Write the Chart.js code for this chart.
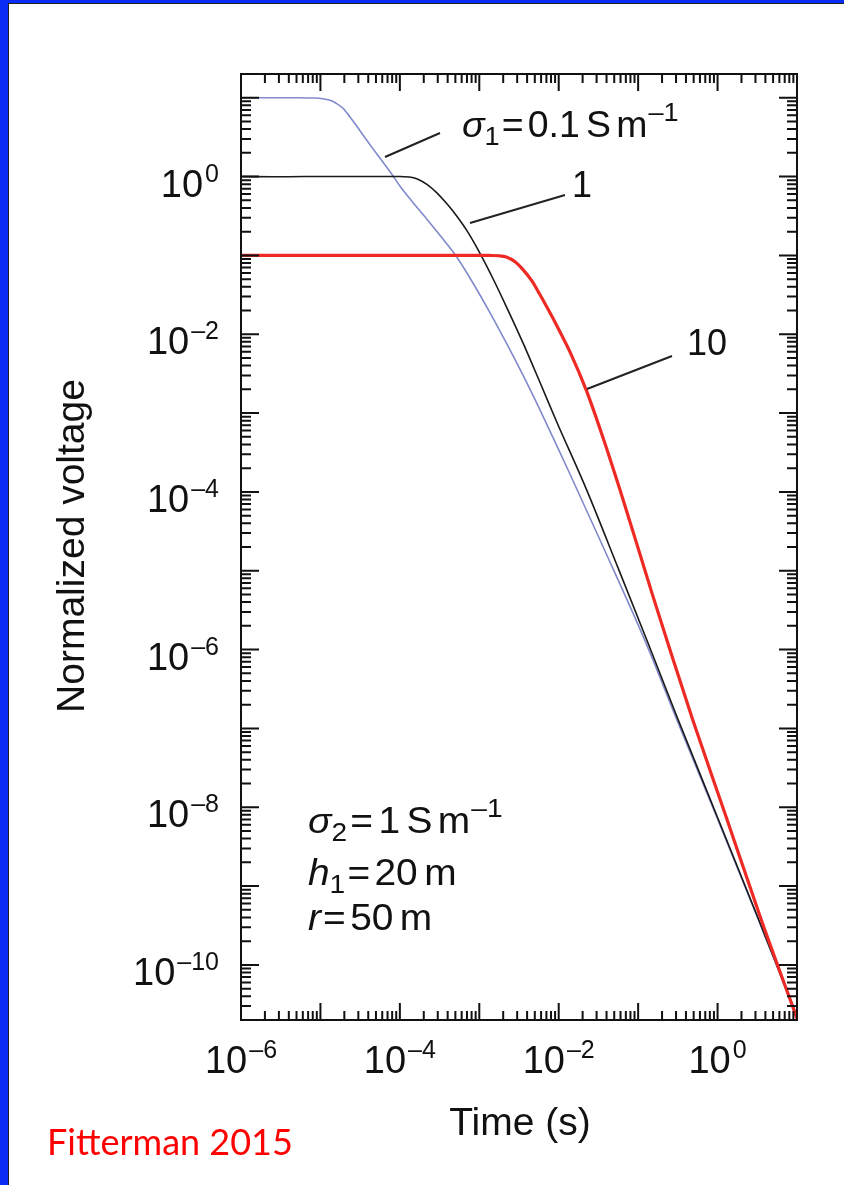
<!DOCTYPE html>
<html lang="en">
<head>
    <meta charset="UTF-8">
    <title>Normalized voltage vs time</title>
    <script src="https://cdn.jsdelivr.net/npm/chart.js"></script>
    <style>
        html, body { margin: 0; padding: 0; background: #fff; }
        #wrap { position: relative; width: 844px; height: 1185px; overflow: hidden; }
        #voltChart { position: absolute; left: 0; top: 0; }
        .blue { position: absolute; left: 0; top: 0; width: 844px; height: 1185px;
                border-left: 8px solid #0a2cf5; border-top: 3px solid #0a2cf5; box-sizing: border-box; pointer-events: none; }
        .edge { position: absolute; left: 8px; top: 3px; width: 836px; height: 1182px;
                border-left: 1px solid #222; border-top: 1px solid #222; box-sizing: border-box; pointer-events: none; }
    </style>
</head>
<body>
<div id="wrap">
    <canvas id="voltChart" width="844" height="1185"></canvas>
    <div class="blue"></div>
    <div class="edge"></div>
</div>
<script>
    // sigma1 = 0.1 S/m
    const timeS01 = [1e-6, 5.01e-6, 7.94e-6, 1.07e-5, 1.32e-5, 1.58e-5, 1.91e-5, 2.34e-5, 2.82e-5, 3.47e-5,
        4.57e-5, 6.17e-5, 7.94e-5, 1e-4, 1.41e-4, 2.19e-4, 3.55e-4, 5.13e-4, 8.32e-4, 1.35e-3,
        2.19e-3, 3.55e-3, 5.75e-3, 9.33e-3, 1.38e-2, 3.63e-2, 0.126, 0.316, 1, 3.16, 10];
    const voltS01 = [10, 10, 9.93, 9.73, 9.27, 8.51, 7.41, 5.75, 4.47, 3.31,
        2.26, 1.51, 1.07, 0.759, 0.49, 0.288, 0.158, 0.0977, 0.0447, 0.0191,
        7.76e-3, 3.02e-3, 1.12e-3, 3.98e-4, 1.7e-4, 2.0e-5, 1.2e-6, 1.2e-7, 7.08e-9, 4.07e-10, 2.19e-11];

    // sigma1 = 1 S/m
    const timeS1 = [1e-6, 2.51e-6, 6.31e-6, 3.98e-5, 1e-4, 1.32e-4, 1.66e-4, 2.19e-4, 2.88e-4, 3.72e-4,
        4.68e-4, 6.92e-4, 9.55e-4, 1.48e-3, 2.19e-3, 3.55e-3, 5.75e-3, 9.33e-3, 2.24e-2, 5.62e-2,
        0.135, 0.302, 1, 3.16, 10];
    const voltS1 = [1, 0.993, 1, 1, 1, 0.989, 0.933, 0.794, 0.631, 0.479,
        0.363, 0.209, 0.12, 0.0513, 0.0224, 7.76e-3, 2.51e-3, 7.94e-4, 1.07e-4, 1.07e-5,
        1.17e-6, 1.48e-7, 7.41e-9, 4.17e-10, 2.24e-11];

    // sigma1 = 10 S/m
    const timeS10 = [1e-6, 1e-3, 1.35e-3, 1.74e-3, 2.19e-3, 2.82e-3, 3.55e-3, 4.57e-3, 5.75e-3, 7.41e-3,
        9.33e-3, 1.38e-2, 2.24e-2, 3.63e-2, 5.89e-2, 9.55e-2, 0.151, 0.251, 0.49, 1.29, 3.39, 10];
    const voltS10 = [0.1, 0.1, 0.0998, 0.0989, 0.0955, 0.0832, 0.0661, 0.0479, 0.0324, 0.0204,
        0.0132, 6.03e-3, 1.91e-3, 4.79e-4, 1.07e-4, 2.24e-5, 5.01e-6, 1e-6, 1.26e-7, 7.41e-9, 4.27e-10, 2.09e-11];

    const xLabelExp = [-6, -4, -2, 0];
    const yLabelExp = [0, -2, -4, -6, -8, -10];

    const FAM = '"Liberation Sans", Arial, Helvetica, sans-serif';

    function pts(t, v) { return t.map((tt, i) => ({ x: tt, y: v[i] })); }

    // draw a row of text pieces (subscripts, superscripts), slightly widened like the source figure
    function drawRuns(ctx, x, y, runs, sx) {
        sx = sx || 1.08;
        ctx.save();
        ctx.translate(x, y);
        ctx.scale(sx, 1);
        let cx = 0;
        runs.forEach(r => {
            cx += r.gap || 0;
            ctx.font = r.font;
            ctx.fillText(r.t, cx, r.dy || 0);
            cx += ctx.measureText(r.t).width;
        });
        ctx.restore();
    }

    function powerLabel(ctx, exp, x, y, align) {
        const base = '38px ' + FAM, sup = '25px ' + FAM;
        const e = exp < 0 ? '\u2013' + (-exp) : String(exp);
        ctx.font = base; const wb = ctx.measureText('10').width;
        ctx.font = sup; const we = ctx.measureText(e).width;
        const w = wb + 2 + we;
        let left = align === 'right' ? x - w : x - w / 2;
        ctx.font = base; ctx.fillText('10', left, y);
        ctx.font = sup; ctx.fillText(e, left + wb + 2, y - 15);
    }

    const frameTicks = {
        id: 'frameTicks',
        afterDatasetsDraw(chart) {
            const { ctx, chartArea: a, scales: { x, y } } = chart;
            ctx.save();
            ctx.strokeStyle = '#111';
            ctx.lineWidth = 2;
            ctx.beginPath();
            for (let e = -6; e <= 1; e++) {
                for (let m = 1; m <= 9; m++) {
                    const v = m * Math.pow(10, e);
                    if (v < x.min * 0.999 || v > x.max * 1.001) continue;
                    const px = x.getPixelForValue(v);
                    const len = m === 1 ? 17 : 9;
                    ctx.moveTo(px, a.bottom); ctx.lineTo(px, a.bottom - len);
                    ctx.moveTo(px, a.top); ctx.lineTo(px, a.top + len);
                }
            }
            for (let e = -11; e <= 1; e++) {
                for (let m = 1; m <= 9; m++) {
                    const v = m * Math.pow(10, e);
                    if (v < y.min || v > y.max) continue;
                    const py = y.getPixelForValue(v);
                    const len = m === 1 ? 18 : 10;
                    ctx.moveTo(a.left, py); ctx.lineTo(a.left + len, py);
                    ctx.moveTo(a.right, py); ctx.lineTo(a.right - len, py);
                }
            }
            ctx.stroke();
            ctx.strokeRect(a.left, a.top, a.right - a.left, a.bottom - a.top);

            // tick labels
            ctx.fillStyle = '#111';
            ctx.textBaseline = 'alphabetic';
            xLabelExp.forEach(e => powerLabel(ctx, e, x.getPixelForValue(Math.pow(10, e)), a.bottom + 53, 'center'));
            yLabelExp.forEach(e => powerLabel(ctx, e, a.left - 22, y.getPixelForValue(Math.pow(10, e)) + 20, 'right'));

            // axis titles
            ctx.font = '39px ' + FAM;
            ctx.textAlign = 'center';
            ctx.fillText('Time (s)', 520, 1135);
            ctx.save();
            ctx.translate(84, 546);
            ctx.rotate(-Math.PI / 2);
            ctx.fillText('Normalized voltage', 0, 0);
            ctx.restore();
            ctx.textAlign = 'left';

            // leader lines
            ctx.lineWidth = 2;
            ctx.strokeStyle = '#222';
            ctx.beginPath();
            ctx.moveTo(385, 157); ctx.lineTo(440, 133);
            ctx.moveTo(470, 223); ctx.lineTo(565, 195);
            ctx.moveTo(587, 389); ctx.lineTo(672, 356);
            ctx.stroke();

            const main = '36px ' + FAM, it = 'italic 36px ' + FAM, sm = '26px ' + FAM;
            drawRuns(ctx, 462, 137, [
                { t: '\u03C3', font: it }, { t: '1', font: sm, dy: 8 }, { t: '=', font: main, gap: 2 },
                { t: '0.1', font: main, gap: 4 }, { t: 'S', font: main, gap: 6 }, { t: 'm', font: main, gap: 5 },
                { t: '\u20131', font: sm, dy: -16, gap: 1 }], 1.04);
            drawRuns(ctx, 572, 197, [{ t: '1', font: main }], 1);
            drawRuns(ctx, 687, 355, [{ t: '10', font: main }], 1);
            drawRuns(ctx, 308, 833, [
                { t: '\u03C3', font: it }, { t: '2', font: sm, dy: 8 }, { t: '=', font: main, gap: 3 },
                { t: '1', font: main, gap: 5 }, { t: 'S', font: main, gap: 6 }, { t: 'm', font: main, gap: 5 },
                { t: '\u20131', font: sm, dy: -16, gap: 1 }]);
            drawRuns(ctx, 308, 885, [
                { t: 'h', font: it }, { t: '1', font: sm, dy: 8 }, { t: '=', font: main, gap: 2 },
                { t: '20', font: main, gap: 4 }, { t: 'm', font: main, gap: 6 }]);
            drawRuns(ctx, 308, 930, [
                { t: 'r', font: it }, { t: '=', font: main, gap: 2 },
                { t: '50', font: main, gap: 4 }, { t: 'm', font: main, gap: 6 }]);

            ctx.fillStyle = '#ff0000';
            ctx.font = '36px Lato, "Open Sans", sans-serif';
            ctx.fillText('Fitterman 2015', 47, 1155);
            ctx.restore();
        }
    };

    const ctx = document.getElementById('voltChart').getContext('2d');
    const voltChart = new Chart(ctx, {
        type: 'line',
        data: {
            datasets: [
                { label: '10', data: pts(timeS10, voltS10), borderColor: '#ee2a24', borderWidth: 3.2 },
                { label: '1', data: pts(timeS1, voltS1), borderColor: '#1a1a1a', borderWidth: 1.6 },
                { label: '0.1', data: pts(timeS01, voltS01), borderColor: '#8189cb', borderWidth: 1.6 }
            ]
        },
        options: {
            responsive: false,
            animation: false,
            devicePixelRatio: 1,
            layout: { padding: { left: 241, top: 74, right: 47, bottom: 165 } },
            elements: {
                point: { radius: 0 },
                line: { cubicInterpolationMode: 'monotone', fill: false }
            },
            plugins: { legend: { display: false }, tooltip: { enabled: false } },
            scales: {
                x: { type: 'logarithmic', min: 1e-6, max: 10, display: false },
                y: { type: 'logarithmic', min: 2e-11, max: 20, display: false }
            }
        },
        plugins: [frameTicks]
    });
</script>
</body>
</html>
